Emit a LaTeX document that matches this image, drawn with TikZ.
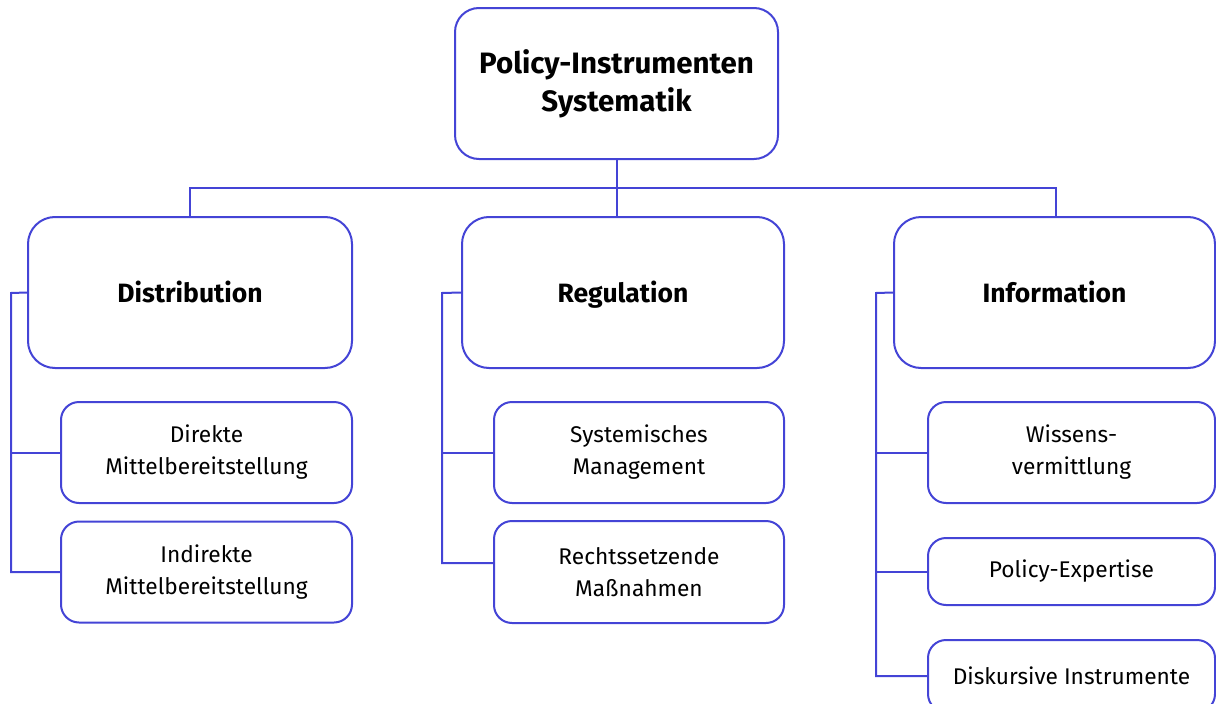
\documentclass[tikz,border=0pt]{standalone}
\usepackage{fontspec}
\setmainfont{Fira Sans}
\definecolor{linkblue}{RGB}{68,68,214}

\begin{document}
\begin{tikzpicture}[x=1pt,y=-1pt,
  box/.style={draw=linkblue, line width=2pt, rectangle, inner sep=0pt,
    align=center, text=black, fill=white},
  rootbox/.style={box, rounded corners=24pt, minimum width=323pt, minimum height=151pt,
    font=\fontsize{29.5}{38}\selectfont\bfseries},
  catbox/.style={box, rounded corners=27pt, minimum height=151pt,
    text height=19pt, text depth=0pt,
    font=\fontsize{26.5}{30}\selectfont\bfseries},
  itembox/.style={box, rounded corners=18pt,
    font=\fontsize{22.7}{32}\selectfont},
  wire/.style={draw=linkblue, line width=2pt}
]
\clip (0,0) rectangle (1216,704);

% top level
\node[rootbox] (root) at (616.5,83.5) {Policy-Instrumenten\\Systematik};

% categories
\node[catbox, minimum width=324pt] (dist) at (190,292.5) {Distribution};
\node[catbox, minimum width=322pt] (reg)  at (623,292.5) {Regulation};
\node[catbox, minimum width=321pt] (info) at (1054.5,292.5) {Information};

% instruments: distribution
\node[itembox, minimum width=291pt, minimum height=101pt] (dk) at (206.5,452.5) {Direkte\\Mittelbereitstellung};
\node[itembox, minimum width=291pt, minimum height=101pt] (ik) at (206.5,572) {Indirekte\\Mittelbereitstellung};

% instruments: regulation
\node[itembox, minimum width=290pt, minimum height=101pt] (sm) at (639,452.5) {Systemisches\\Management};
\node[itembox, minimum width=290pt, minimum height=102pt] (rs) at (639,572) {Rechtssetzende\\Maßnahmen};

% instruments: information
\node[itembox, minimum width=287pt, minimum height=101pt] (wv) at (1071.5,452.5) {Wissens-\\vermittlung};
\node[itembox, minimum width=287pt, minimum height=67pt] (pe) at (1071.5,571.5) {Policy-Expertise};
\node[itembox, minimum width=287pt, minimum height=72pt] (di) at (1071.5,676) {Diskursive Instrumente};

% bus from the root to the categories
\coordinate (bus) at (0,188);
\draw[wire] (root.south) -- (root.south |- reg.north);
\draw[wire] (dist.north) -- (dist.north |- bus) -- ([xshift=1.5pt]info.north |- bus) -- ([xshift=1.5pt]info.north);

% distribution rail
\coordinate (drail) at (11,293);
\draw[wire] (dist.west) -- (drail) |- (ik.west);
\draw[wire] (drail |- dk.west) -- (dk.west);

% regulation rail
\coordinate (rrail) at (442,293);
\draw[wire] (reg.west) -- (rrail) |- ([yshift=9pt]rs.west);
\draw[wire] (rrail |- sm.west) -- (sm.west);

% information rail
\coordinate (irail) at (876,293);
\draw[wire] (info.west) -- (irail) |- (di.west);
\draw[wire] (irail |- wv.west) -- (wv.west);
\draw[wire] (irail |- pe.west) -- (pe.west);
\end{tikzpicture}
\end{document}
